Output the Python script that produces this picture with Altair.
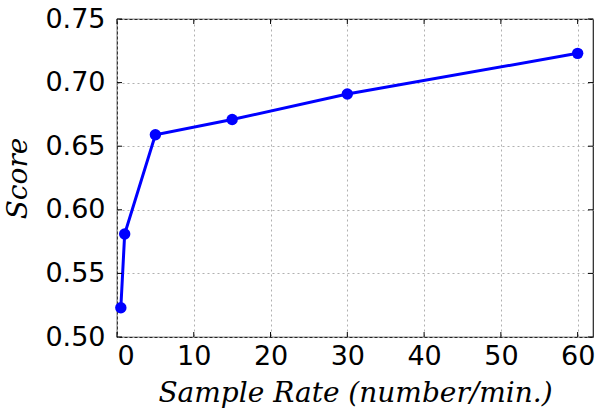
import altair as alt
import pandas as pd

# Score measured at each sample rate
rates = [0.5, 1, 5, 15, 30, 60]
scores = [0.523, 0.581, 0.659, 0.671, 0.691, 0.723]

x_ticks = [0, 10, 20, 30, 40, 50, 60]
y_ticks = [0.50, 0.55, 0.60, 0.65, 0.70, 0.75]

W, H = 476, 318

df = pd.DataFrame({"rate": rates, "score": scores})
xt = pd.DataFrame({"v": x_ticks})
yt = pd.DataFrame({"v": y_ticks})

xscale = alt.Scale(domain=[0, 62], nice=False, zero=False)
yscale = alt.Scale(domain=[0.50, 0.75], nice=False, zero=False)

tick_font = "DejaVu Sans"
title_font = "DejaVu Serif"

x_axis = alt.Axis(
    values=x_ticks, format="d", title="Sample Rate (number/min.)",
    titleFont=title_font, titleFontStyle="italic", titleFontWeight="normal",
    titleFontSize=28, titleColor="black", titlePadding=10,
    labelFont=tick_font, labelFontSize=27, labelColor="black", labelPadding=6,
    ticks=False, domain=False, grid=True, gridColor="#b0b0b0",
    gridDash=[2, 3], gridWidth=1,
)
y_axis = alt.Axis(
    values=y_ticks, format=".2f", title="Score",
    titleFont=title_font, titleFontStyle="italic", titleFontWeight="normal",
    titleFontSize=28, titleColor="black", titlePadding=12,
    labelFont=tick_font, labelFontSize=27, labelColor="black", labelPadding=12,
    ticks=False, domain=False, grid=True, gridColor="#b0b0b0",
    gridDash=[2, 3], gridWidth=1,
)

line = alt.Chart(df).mark_line(color="#0000ff", strokeWidth=3).encode(
    x=alt.X("rate:Q", scale=xscale, axis=x_axis),
    y=alt.Y("score:Q", scale=yscale, axis=y_axis),
)
points = alt.Chart(df).mark_circle(color="#0000ff", size=130, opacity=1).encode(
    x=alt.X("rate:Q", scale=xscale),
    y=alt.Y("score:Q", scale=yscale),
)

# inward ticks on all four sides
tk = 5
x_bottom = alt.Chart(xt).mark_rule(color="black", strokeWidth=1).encode(
    x=alt.X("v:Q", scale=xscale), y=alt.value(H - tk), y2=alt.value(H))
x_top = alt.Chart(xt).mark_rule(color="black", strokeWidth=1).encode(
    x=alt.X("v:Q", scale=xscale), y=alt.value(0), y2=alt.value(tk))
y_left = alt.Chart(yt).mark_rule(color="black", strokeWidth=1).encode(
    y=alt.Y("v:Q", scale=yscale), x=alt.value(0), x2=alt.value(tk))
y_right = alt.Chart(yt).mark_rule(color="black", strokeWidth=1).encode(
    y=alt.Y("v:Q", scale=yscale), x=alt.value(W - tk), x2=alt.value(W))

chart = alt.layer(line, points, x_bottom, x_top, y_left, y_right).properties(
    width=W, height=H,
    autosize=alt.AutoSizeParams(type="none"),
    padding={"left": 117, "top": 19, "right": 4, "bottom": 80},
    background="white",
).configure_view(stroke="#222222", strokeWidth=1.2)

chart.save("out.html", embed_options={"renderer": "svg", "actions": False})
